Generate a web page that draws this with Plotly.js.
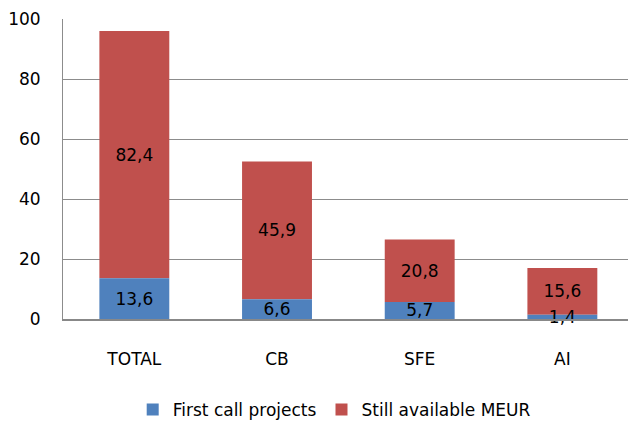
<!DOCTYPE html>
<html>
<head>
<meta charset="utf-8">
<script src="https://cdn.plot.ly/plotly-3.0.1.min.js"></script>
<style>
  html, body { margin: 0; padding: 0; background: #fff; }
  #plot { width: 628px; height: 421px; }
</style>
</head>
<body>
<div id="plot"></div>
<script>
// values in MEUR
var categories = ['TOTAL', 'CB', 'SFE', 'AI'];
var firstCall = [13.6, 6.6, 5.7, 1.4];
var stillAvailable = [82.4, 45.9, 20.8, 15.6];
var seriesNames = ['First call projects', 'Still available MEUR'];
var yTicks = [0, 20, 40, 60, 80, 100];

var fontFam = 'DejaVu Sans, Verdana, sans-serif';

// red segment sits on top of the blue one; drawn first so blue labels stay visible
function makeBar(y, base, name, color, rank) {
    return {
        type: 'bar',
        x: categories,
        y: y,
        base: base,
        name: name,
        legendrank: rank,
        marker: { color: color, line: { width: 0 } },
        texttemplate: '%{value:.1f}',
        textposition: 'inside',
        insidetextanchor: 'middle',
        textangle: 0,
        constraintext: 'none',
        cliponaxis: false,
        textfont: { family: fontFam, size: 17, color: '#000' },
        hoverinfo: 'skip'
    };
}

var data = [
    makeBar(stillAvailable, firstCall, seriesNames[1], '#C0504D', 2),
    makeBar(firstCall, 0, seriesNames[0], '#4F81BD', 1)
];

var layout = {
    width: 628,
    height: 421,
    barmode: 'overlay',
    bargap: 0.51,
    separators: ', ',
    margin: { l: 63, r: 0, t: 19, b: 102, autoexpand: false },
    paper_bgcolor: '#fff',
    plot_bgcolor: '#fff',
    font: { family: fontFam, size: 17, color: '#000' },
    uniformtext: { mode: 'show', minsize: 17 },
    showlegend: true,
    legend: {
        orientation: 'h',
        x: 0.48, xanchor: 'center',
        y: -0.303, yanchor: 'middle',
        font: { family: fontFam, size: 17, color: '#000' },
        itemwidth: 30
    },
    xaxis: {
        range: [-0.5, 3.46],
        showline: true,
        linecolor: '#888',
        linewidth: 2,
        ticks: '',
        ticklabelstandoff: 24,
        tickfont: { family: fontFam, size: 17, color: '#000' },
        fixedrange: true
    },
    yaxis: {
        range: [0, 100],
        tickvals: yTicks,
        showgrid: true,
        gridcolor: '#8c8c8c',
        gridwidth: 1,
        showline: true,
        linecolor: '#8c8c8c',
        linewidth: 1,
        zeroline: false,
        ticks: '',
        ticklabelstandoff: 18,
        tickfont: { family: fontFam, size: 17, color: '#000' },
        fixedrange: true
    }
};

Plotly.newPlot('plot', data, layout, { displayModeBar: false, staticPlot: true });
</script>
</body>
</html>
